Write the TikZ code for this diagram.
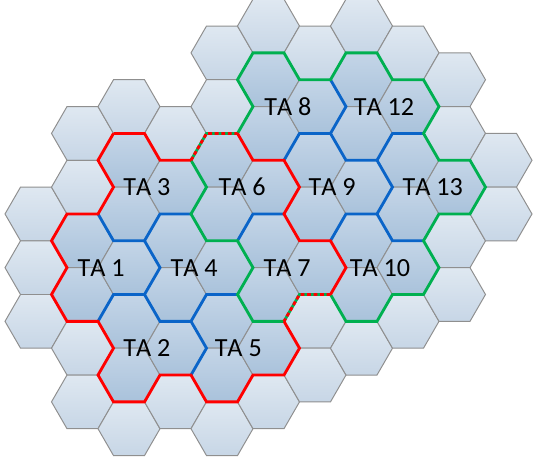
\documentclass[tikz,border=0pt]{standalone}
\usepackage{fontspec}
\setmainfont[Kerning=Off]{Carlito}
\definecolor{cellhi}{HTML}{DFE8F1}
\definecolor{celllo}{HTML}{C7D6E6}
\definecolor{tahi}{HTML}{C4D5E7}
\definecolor{talo}{HTML}{A9C2DB}
\definecolor{rim}{HTML}{8F8F8F}
\definecolor{listred}{HTML}{FF0000}
\definecolor{listgreen}{HTML}{00B050}
\definecolor{tablue}{HTML}{0A64C8}
\begin{document}
\begin{tikzpicture}[x=0.5cm, y=-0.866cm,
  freecell/.style={top color=cellhi, bottom color=celllo, draw=rim, line width=0.9pt},
  tacell/.style={top color=tahi, bottom color=talo, draw=rim, line width=0.9pt},
  border/.style={line width=2.6pt},
  talabel/.style={font=\fontsize{24}{28}\selectfont, inner sep=0pt}]
\useasboundingbox (-2.323,0.03) rectangle (32.065,17.165);
\foreach \c/\j in {0/8,0/10,0/12,1/5,1/7,1/13,1/15,2/4,2/16,3/5,3/15,4/2,4/4,4/16,5/1,5/15,
    6/2,6/12,6/14,7/1,7/13,8/2,8/12,9/3,9/5,9/9,9/11,10/6,10/8}
  \path[freecell] (3*\c,\j) ++(-2,0) -- ++(1,-1) -- ++(2,0) -- ++(1,1) -- ++(-1,1) -- ++(-2,0) -- cycle;
\foreach \c/\j in {1/9,1/11,2/10, 2/12,2/14,3/13, 2/6,2/8,3/7, 3/9,3/11,4/10, 4/12,4/14,5/13,
    4/6,4/8,5/7, 5/9,5/11,6/10, 5/3,5/5,6/4, 6/6,6/8,7/7, 7/9,7/11,8/10, 7/3,7/5,8/4, 8/6,8/8,9/7}
  \path[tacell] (3*\c,\j) ++(-2,0) -- ++(1,-1) -- ++(2,0) -- ++(1,1) -- ++(-1,1) -- ++(-2,0) -- cycle;
% borders between TAs of the same list
\draw[border,tablue] (4,8) -- (5,9) -- (7,9) -- (8,10) -- (7,11) -- (5,11) -- (4,12);
\draw[border,tablue] (7,9) -- (8,8) -- (10,8);
\draw[border,tablue] (7,11) -- (8,12) -- (10,12) -- (11,13) -- (10,14);
\draw[border,tablue] (10,12) -- (11,11) -- (13,11);
\draw[border,tablue] (13,9) -- (14,8) -- (16,8);
\draw[border,tablue] (19,3) -- (20,4) -- (19,5) -- (17,5) -- (16,6);
\draw[border,tablue] (19,5) -- (20,6) -- (22,6) -- (23,7) -- (22,8) -- (20,8) -- (19,9);
\draw[border,tablue] (22,6) -- (23,5) -- (25,5);
\draw[border,tablue] (22,8) -- (23,9) -- (25,9);
% list outlines
\draw[border,listgreen] (14,2) -- (16,2) -- (17,3) -- (19,3) -- (20,2) -- (22,2) -- (23,3) -- (25,3)
  -- (26,4) -- (25,5) -- (26,6) -- (28,6) -- (29,7) -- (28,8) -- (26,8) -- (25,9) -- (26,10)
  -- (25,11) -- (23,11) -- (22,12) -- (20,12) -- (19,11) -- (17,11) -- (16,12) -- (14,12)
  -- (13,11) -- (14,10) -- (13,9) -- (11,9) -- (10,8) -- (11,7) -- (10,6) -- (11,5) -- (13,5)
  -- (14,4) -- (13,3) -- cycle;
\draw[border,listred] (5,5) -- (7,5) -- (8,6) -- (10,6) (13,5) -- (14,6) -- (16,6) -- (17,7)
  -- (16,8) -- (17,9) -- (19,9) -- (20,10) -- (19,11) (16,12) -- (17,13) -- (16,14) -- (14,14)
  -- (13,15) -- (11,15) -- (10,14) -- (8,14) -- (7,15) -- (5,15) -- (4,14) -- (5,13) -- (4,12)
  -- (2,12) -- (1,11) -- (2,10) -- (1,9) -- (2,8) -- (4,8) -- (5,7) -- (4,6) -- (5,5);
\draw[border,listred,dash pattern=on 3.5pt off 2.5pt] (10,6) -- (11,5) -- (13,5);
\draw[border,listred,dash pattern=on 3.5pt off 2.5pt] (19,11) -- (17,11) -- (16,12);
\foreach \u/\k/\n in {4.2/10/1,7.15/13/2,7.15/7/3,10.2/10/4,13.05/13/5,13.3/7/6,16.2/10/7,
    16.25/4/8,19.1/7/9,22.2/10/10,22.45/4/12,25.6/7/13}
  \node[talabel] (ta\n) at (\u,\k) {TA \n};
\end{tikzpicture}
\end{document}
